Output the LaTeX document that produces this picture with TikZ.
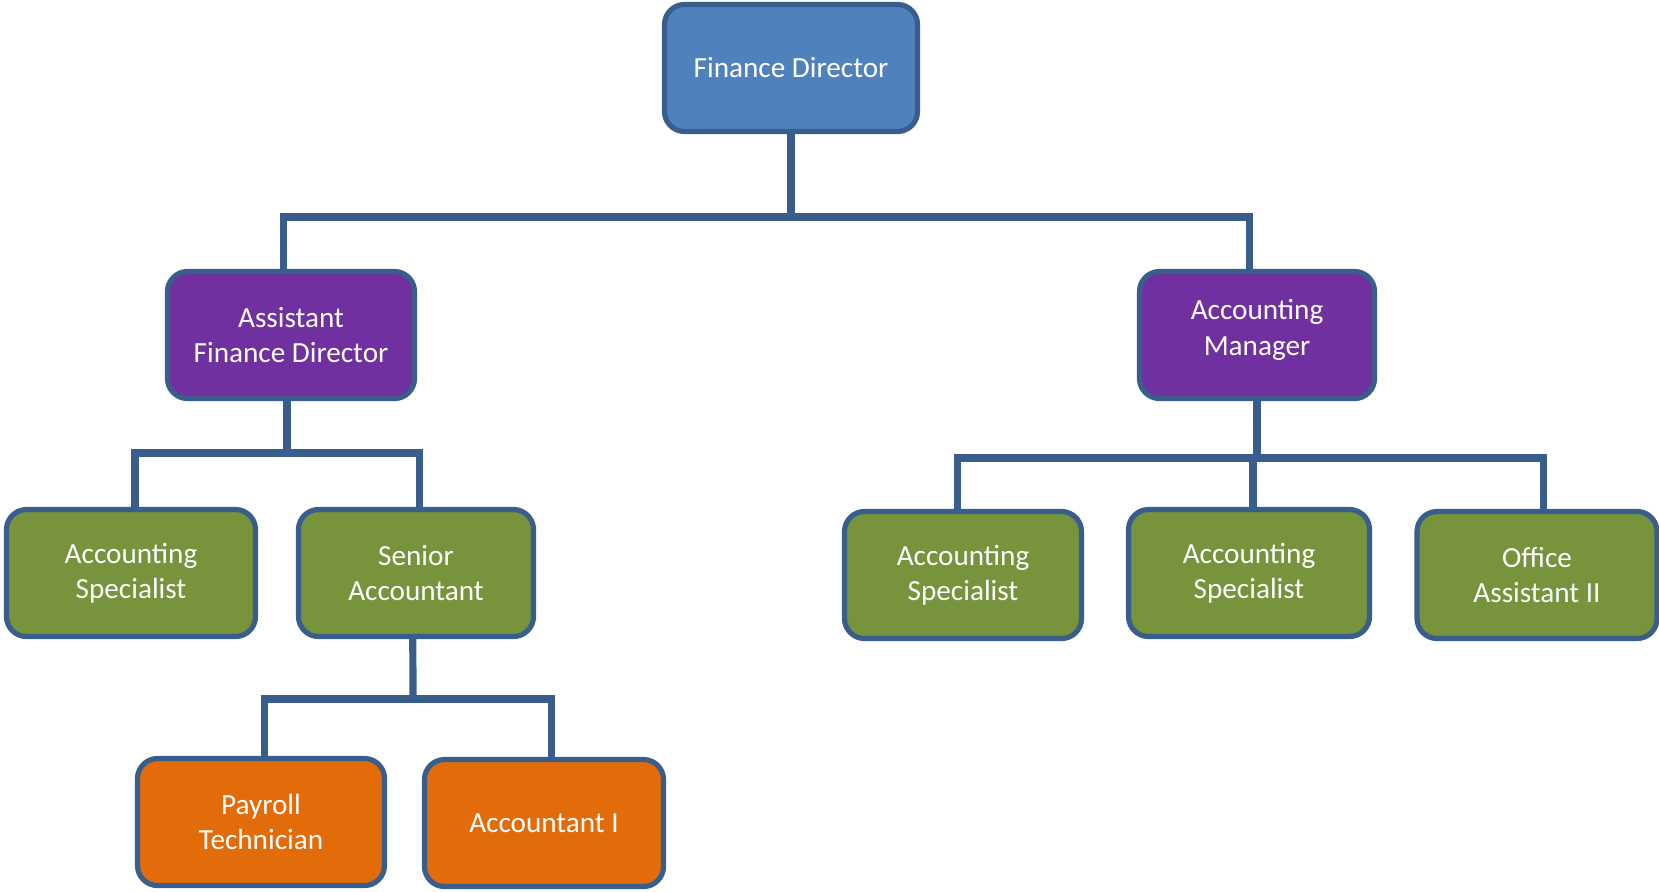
\documentclass[tikz,border=0pt]{standalone}
\usepackage{fontspec}
\setmainfont{Carlito}
\usepackage{xcolor}
\usepackage{tikz}
\usetikzlibrary{positioning}

\definecolor{edgeblue}{HTML}{3A5E8C}
\definecolor{topblue}{HTML}{4F81BD}
\definecolor{midpurple}{HTML}{7030A0}
\definecolor{staffgreen}{HTML}{77933C}
\definecolor{juniororange}{HTML}{E36C0A}

\begin{document}
\begin{tikzpicture}[x=0.5pt, y=-0.5pt,
        box/.style={draw=edgeblue, line width=2.6pt, rounded corners=10pt,
            text=white, align=center, minimum height=63.5pt,
            font=\fontsize{14.6}{17.6}\selectfont},
        link/.style={draw=edgeblue, line width=3.6pt}]
        % Area del disegno
        \useasboundingbox (0,0) rectangle (1659,891);
        
        % Vertice
        \node[box, fill=topblue, minimum width=126.5pt] (fd) at (791,68) {Finance Director};
        
        % Secondo livello
        \node[box, fill=midpurple, minimum width=123.5pt] (afd) at (291,335) {Assistant\\Finance Director};
        \node[box, fill=midpurple, minimum width=117.5pt] (am) at (1257,335) {Accounting\\Manager\\[-10pt]};
        
        % Terzo livello
        \node[box, fill=staffgreen, minimum width=124.5pt] (as1) at (131,573) {Accounting\\Specialist};
        \node[box, fill=staffgreen, minimum width=117.5pt] (sa) at (416,573) {Senior\\Accountant};
        \node[box, fill=staffgreen, minimum width=118.5pt] (as2) at (963,575) {Accounting\\Specialist};
        \node[box, fill=staffgreen, minimum width=120.5pt] (as3) at (1249,573) {Accounting\\Specialist};
        \node[box, fill=staffgreen, minimum width=120pt] (oa) at (1537,575) {Office\\Assistant II};
        
        % Quarto livello
        \node[box, fill=juniororange, minimum width=123.5pt] (pt) at (261,822) {Payroll\\Technician};
        \node[box, fill=juniororange, minimum width=119.5pt] (acc) at (544,823) {Accountant I};
        
        % Barre orizzontali
        \coordinate (busA) at (791,217);
        \coordinate (busB) at (287,453);
        \coordinate (busC) at (413,699);
        \coordinate (busD) at (1257,458);
        
        % Collegamenti
        \draw[link] (fd.south) -- (busA);
        \draw[link] ([xshift=-3.7pt]afd.north) |- (busA) -| ([xshift=-3.7pt]am.north);
        \draw[link] ([xshift=-2pt]afd.south) -- (busB);
        \draw[link] ([xshift=2pt]as1.north) |- (busB) -| ([xshift=1.6pt]sa.north);
        \draw[link] ([xshift=-1.6pt]sa.south) -- (busC);
        \draw[link] ([xshift=1.6pt]pt.north) |- (busC) -| ([xshift=3.7pt]acc.north);
        \draw[link] (am.south) -- (busD);
        \draw[link] ([xshift=-2.6pt]as2.north) |- (busD) -| ([xshift=3.2pt]oa.north);
        \draw[link] ([xshift=2pt]as3.north |- busD) -- ([xshift=2pt]as3.north);
        
    \end{tikzpicture}
\end{document}
